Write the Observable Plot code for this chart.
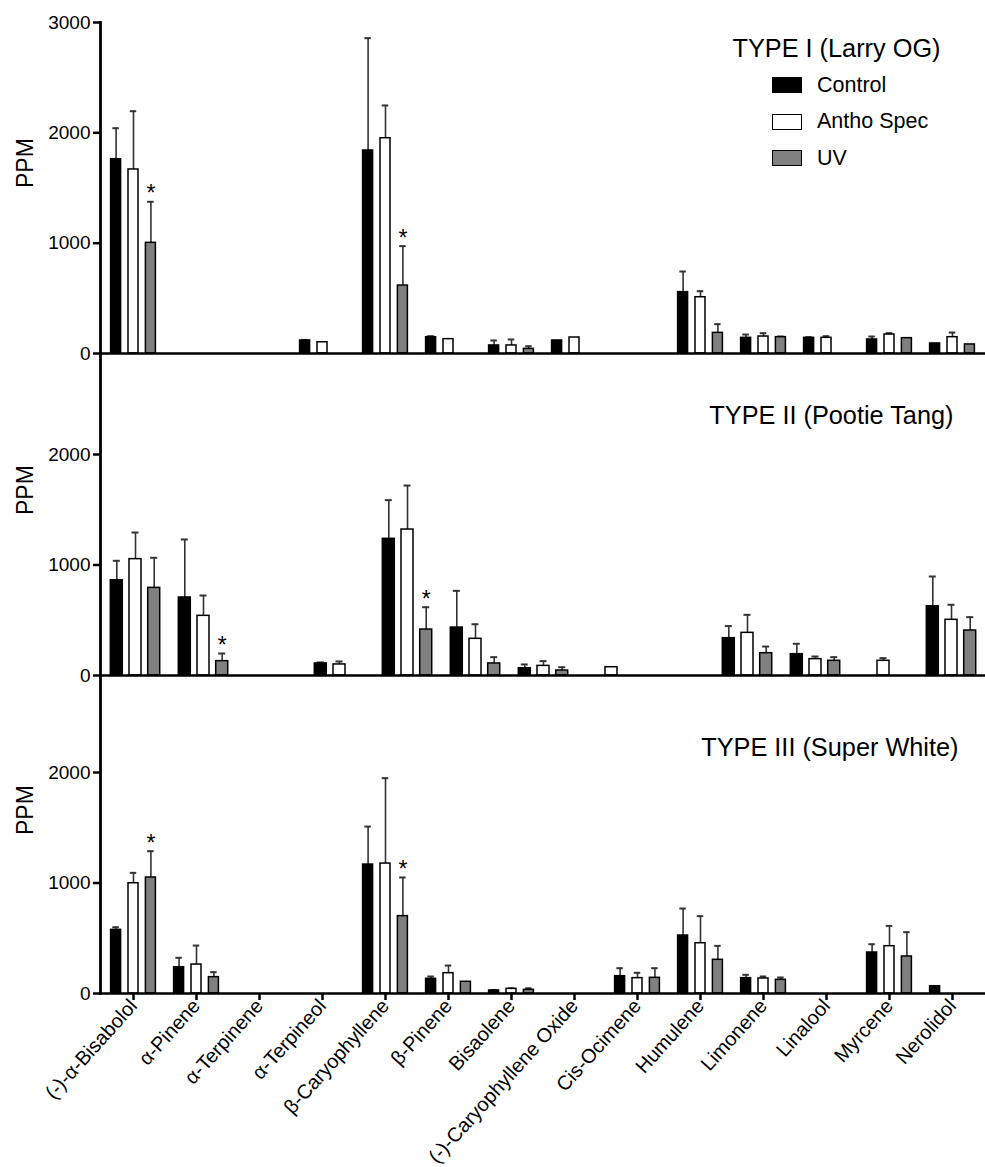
<!DOCTYPE html>
<html>
<head>
<meta charset="utf-8">
<script src="https://cdn.jsdelivr.net/npm/d3@7"></script>
<script src="https://cdn.jsdelivr.net/npm/@observablehq/plot@0.6"></script>
<style>
  body { margin: 0; background: white; }
  #wrap { position: relative; width: 985px; }
  #chart svg { display: block; overflow: visible; }
  .legend { position: absolute; left: 772px; top: 67px; font-family: "Liberation Sans", Arial, Helvetica, sans-serif; }
  .legend .row { display: flex; align-items: center; height: 36.6px; }
  .legend .sw { width: 30px; height: 16px; box-sizing: border-box; border: 1.5px solid #000; margin-right: 15px; }
  .legend .lab { font-size: 21.5px; color: #000; }
</style>
</head>
<body>
<div id="wrap">
  <div id="chart"></div>
  <div class="legend" id="legend"></div>
</div>
<script>
// ---------- data ----------
const terpenes = ["(-)-α-Bisabolol", "α-Pinene", "α-Terpinene", "α-Terpineol", "β-Caryophyllene", "β-Pinene",
  "Bisaolene", "(-)-Caryophyllene Oxide", "Cis-Ocimene", "Humulene", "Limonene", "Linalool", "Myrcene", "Nerolidol"];
// Type II panel is drawn with 13 slots (Linalool absent)
const terpenesTypeII = ["(-)-α-Bisabolol", "α-Pinene", "α-Terpinene", "α-Terpineol", "β-Caryophyllene", "β-Pinene",
  "Bisaolene", "(-)-Caryophyllene Oxide", "Cis-Ocimene", "Humulene", "Limonene", "Myrcene", "Nerolidol"];
const series = ["Control", "Antho Spec", "UV"];
const seriesFill = ["#000000", "#ffffff", "#808080"];
const panelTitles = ["TYPE I (Larry OG)", "TYPE II (Pootie Tang)", "TYPE III (Super White)"];
const yTicksI = [0, 1000, 2000, 3000];
const yTicksII = [0, 1000, 2000];
const yTicksIII = [0, 1000, 2000];

// TYPE I (Larry OG)
const typeI_control     = [1761, null, null, 118, 1840, 148, 73, 118, null, 556, 142, 142, 127, 91];
const typeI_control_err = [281, null, null, 5, 1018, 9, 45, null, null, 187, 30, 6, 27, null];
const typeI_antho       = [1668, null, null, 102, 1951, 130, 73, 145, null, 510, 154, 142, 172, 148];
const typeI_antho_err   = [528, null, null, null, 297, null, 54, null, null, 55, 30, 15, 12, 42];
const typeI_uv          = [1003, null, null, null, 616, null, 42, null, null, 187, 148, null, 139, 82];
const typeI_uv_err      = [372, null, null, null, 357, null, 24, null, null, 79, 6, null, null, null];
const typeI_sig = ["(-)-α-Bisabolol", "β-Caryophyllene"];

// TYPE II (Pootie Tang)
const typeII_control     = [862, 706, null, 109, 1237, 434, 66, null, null, 338, 193, null, 627];
const typeII_control_err = [176, 525, null, 9, 350, 332, 34, null, null, 109, 94, null, 269];
const typeII_antho       = [1053, 540, null, 100, 1321, 332, 87, 75, null, 386, 148, 133, 504];
const typeII_antho_err   = [241, 184, null, 27, 398, 132, 43, null, null, 163, 24, 24, 136];
const typeII_uv          = [793, 130, null, null, 416, 109, 45, null, null, 202, 133, null, 407];
const typeII_uv_err      = [272, 69, null, null, 202, 57, 30, null, null, 60, 33, null, 121];
const typeII_sig = ["α-Pinene", "β-Caryophyllene"];

// TYPE III (Super White)
const typeIII_control     = [576, 238, null, null, 1167, 133, 27, null, 157, 525, 139, null, 371, 66];
const typeIII_control_err = [24, 85, null, null, 344, 21, 5, null, 72, 244, 30, null, 75, null];
const typeIII_antho       = [998, 262, null, null, 1176, 184, 42, null, 139, 455, 136, null, 428, null];
const typeIII_antho_err   = [94, 172, null, null, 773, 69, 5, null, 48, 245, 18, null, 184, null];
const typeIII_uv          = [1050, 148, null, null, 700, 106, 33, null, 142, 305, 124, null, 335, null];
const typeIII_uv_err      = [238, 45, null, null, 350, null, 14, null, 87, 126, 21, null, 220, null];
const typeIII_sig = ["(-)-α-Bisabolol", "β-Caryophyllene"];

// ---------- build tables ----------
function rows(cats, vals, errs, sig) {
  const out = [];
  series.forEach((s, si) => cats.forEach((c, i) => {
    const v = vals[si][i];
    if (v == null) return;
    const e = errs[si][i];
    out.push({terpene: c, series: s, value: v, top: e == null ? null : v + e, sig: s === "UV" && sig.includes(c)});
  }));
  return out;
}

const font = '"Liberation Sans", Arial, Helvetica, sans-serif';

function panel({cats, data, yDomain, yTicks, height, marginTop, marginBottom, title, titleDx, titleDy, xAxis, barW, off}) {
  const step = 885 / cats.length;
  const pi = 1 - barW / step;
  const marks = [];
  series.forEach((s, si) => {
    const dx = (si - 1) * off;
    const sub = data.filter(d => d.series === s);
    const errSub = sub.filter(d => d.top != null);
    marks.push(Plot.ruleX(errSub, {x: "terpene", y1: "value", y2: "top", dx, stroke: "#333", strokeWidth: 1.6}));
    marks.push(Plot.tickY(errSub, {x: "terpene", y: "top", dx, stroke: "#333", strokeWidth: 2, insetLeft: (barW - 7) / 2, insetRight: (barW - 7) / 2}));
    marks.push(Plot.barY(sub, {x: "terpene", y: "value", fill: "series", stroke: "#000", strokeWidth: 1.5, dx}));
    marks.push(Plot.text(errSub.filter(d => d.sig), {x: "terpene", y: "top", dx, dy: -8, text: () => "*", fontSize: 23, fill: "#000"}));
  });
  marks.push(Plot.ruleY([0], {stroke: "#000", strokeWidth: 2.5}));
  marks.push(Plot.frame({anchor: "left", stroke: "#000", strokeWidth: 2.8}));
  marks.push(Plot.axisY({ticks: yTicks, tickFormat: d3.format("d"), tickSize: 7, tickPadding: 3, fontSize: 19, strokeWidth: 2.5, label: null, fill: "#000", stroke: "#000"}));
  marks.push(Plot.text(["PPM"], {frameAnchor: "left", rotate: -90, dx: -75, fontSize: 23, fill: "#000"}));
  marks.push(Plot.text([title], {frameAnchor: "top-right", dx: titleDx, dy: titleDy, lineAnchor: "middle", textAnchor: "end", fontSize: 25.3, fill: "#000"}));
  if (xAxis) {
    marks.push(Plot.axisX({tickRotate: -48, tickSize: 7, tickPadding: 2, fontSize: 20, strokeWidth: 2.5, label: null, fill: "#000", stroke: "#000"}));
  }
  return Plot.plot({
    width: 985,
    height,
    marginLeft: 100,
    marginRight: 0,
    marginTop,
    marginBottom,
    style: {fontFamily: font, background: "transparent", overflow: "visible", color: "#000"},
    x: {type: "band", domain: cats, paddingInner: pi, paddingOuter: pi / 2, axis: null},
    y: {domain: yDomain, axis: null},
    color: {domain: series, range: seriesFill},
    marks
  });
}

const chart = document.getElementById("chart");
chart.append(panel({
  cats: terpenes,
  data: rows(terpenes, [typeI_control, typeI_antho, typeI_uv], [typeI_control_err, typeI_antho_err, typeI_uv_err], typeI_sig),
  yDomain: [0, 3000], yTicks: yTicksI, height: 354, marginTop: 22, marginBottom: 1,
  title: panelTitles[0], titleDx: -45, titleDy: 26, xAxis: false, barW: 10.5, off: 17.4
}));
chart.append(panel({
  cats: terpenesTypeII,
  data: rows(terpenesTypeII, [typeII_control, typeII_antho, typeII_uv], [typeII_control_err, typeII_antho_err, typeII_uv_err], typeII_sig),
  yDomain: [0, 2905], yTicks: yTicksII, height: 322, marginTop: 0, marginBottom: 1,
  title: panelTitles[1], titleDx: -32, titleDy: 61, xAxis: false, barW: 12, off: 18.7
}));
chart.append(panel({
  cats: terpenes,
  data: rows(terpenes, [typeIII_control, typeIII_antho, typeIII_uv], [typeIII_control_err, typeIII_antho_err, typeIII_uv_err], typeIII_sig),
  yDomain: [0, 2869], yTicks: yTicksIII, height: 491, marginTop: 0, marginBottom: 174,
  title: panelTitles[2], titleDx: -27, titleDy: 71, xAxis: true, barW: 10.5, off: 17.4
}));

// legend
const legend = document.getElementById("legend");
series.forEach((s, i) => {
  const row = document.createElement("div");
  row.className = "row";
  const sw = document.createElement("div");
  sw.className = "sw";
  sw.style.background = seriesFill[i];
  const lab = document.createElement("span");
  lab.className = "lab";
  lab.textContent = s;
  row.append(sw, lab);
  legend.append(row);
});
</script>
</body>
</html>
